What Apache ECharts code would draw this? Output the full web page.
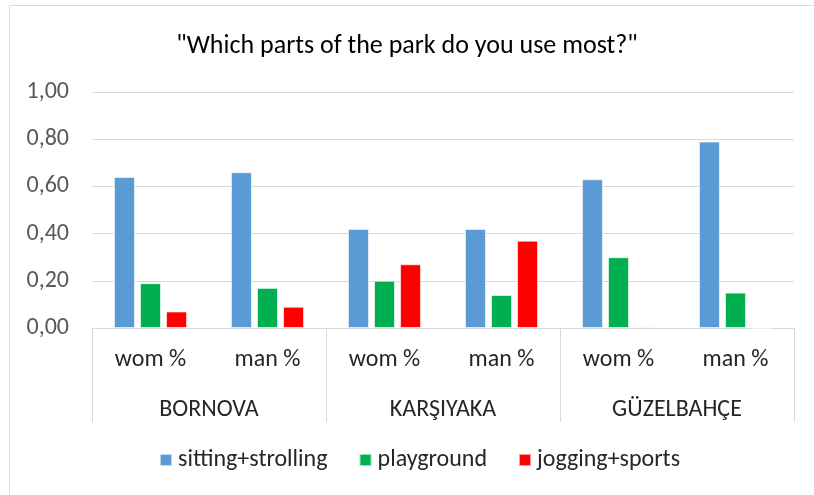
<!DOCTYPE html>
<html>
<head>
<meta charset="utf-8">
<script src="https://cdn.jsdelivr.net/npm/echarts@6/dist/echarts.min.js"></script>
<style>
  html, body { margin: 0; padding: 0; background: #fff; }
  #chart { width: 814px; height: 495px; }
</style>
</head>
<body>
<div id="chart"></div>
<script>
// data
const titleText = '"Which parts of the park do you use most?"';
const subCategories = ['wom %', 'man %', 'wom %', 'man %', 'wom %', 'man %'];
const groups = ['BORNOVA', 'KARŞIYAKA', 'GÜZELBAHÇE'];
const seriesNames = ['sitting+strolling', 'playground', 'jogging+sports'];
const sittingStrolling = [0.64, 0.66, 0.42, 0.42, 0.63, 0.79];
const playground = [0.19, 0.17, 0.20, 0.14, 0.30, 0.15];
const joggingSports = [0.07, 0.09, 0.27, 0.37, 0.005, 0];
const yTicks = [0, 0.2, 0.4, 0.6, 0.8, 1.0];

const FONT = 'Calibri, Carlito, Lato, sans-serif';
const colors = ['#5B9BD5', '#00B050', '#FF0000'];
const gridColor = '#d9d9d9';

const chart = echarts.init(document.getElementById('chart'));

function barSeries(name, data, color) {
    return {
        name: name,
        type: 'bar',
        data: data,
        barWidth: 21,
        barGap: '24%',
        itemStyle: { color: color, borderColor: 'rgba(255,255,255,0.6)', borderWidth: 1 }
    };
}

const option = {
    animation: false,
    textStyle: { fontFamily: FONT },
    title: {
        text: titleText,
        left: 'center',
        top: 28,
        textStyle: { fontFamily: FONT, fontSize: 26, fontWeight: 'normal', color: '#000' }
    },
    legend: {
        data: seriesNames,
        bottom: 18,
        left: 154,
        itemWidth: 12,
        itemHeight: 12,
        itemGap: 31,
        icon: 'rect',
        textStyle: { fontFamily: FONT, fontSize: 24, color: '#262626', padding: [0, 0, 0, 1] }
    },
    grid: { left: 92, right: 20, top: 92, bottom: 167, containLabel: false },
    graphic: [{
        type: 'rect',
        shape: { x: 9.5, y: 5.5, width: 900, height: 600 },
        style: { fill: 'none', stroke: gridColor, lineWidth: 1 },
        silent: true
    }],
    xAxis: [{
        type: 'category',
        data: subCategories,
        position: 'bottom',
        axisLine: { lineStyle: { color: gridColor, width: 1 } },
        axisTick: { show: false },
        axisLabel: { fontFamily: FONT, fontSize: 24, color: '#262626', margin: 20, interval: 0 }
    }, {
        type: 'category',
        data: groups,
        position: 'bottom',
        offset: 0,
        axisLine: { show: false },
        axisTick: { show: true, length: 94, interval: 0, lineStyle: { color: gridColor, width: 1 } },
        axisLabel: { fontFamily: FONT, fontSize: 24, color: '#262626', margin: 70, interval: 0 }
    }],
    yAxis: {
        type: 'value',
        min: yTicks[0],
        max: yTicks[yTicks.length - 1],
        interval: 0.2,
        axisLine: { show: false },
        axisTick: { show: false },
        splitLine: { lineStyle: { color: gridColor, width: 1 } },
        axisLabel: {
            fontFamily: FONT, fontSize: 24, color: '#595959', margin: 23,
            formatter: v => v.toFixed(2).replace('.', ',')
        }
    },
    series: [
        barSeries(seriesNames[0], sittingStrolling, colors[0]),
        barSeries(seriesNames[1], playground, colors[1]),
        barSeries(seriesNames[2], joggingSports, colors[2])
    ]
};

chart.setOption(option);
</script>
</body>
</html>
